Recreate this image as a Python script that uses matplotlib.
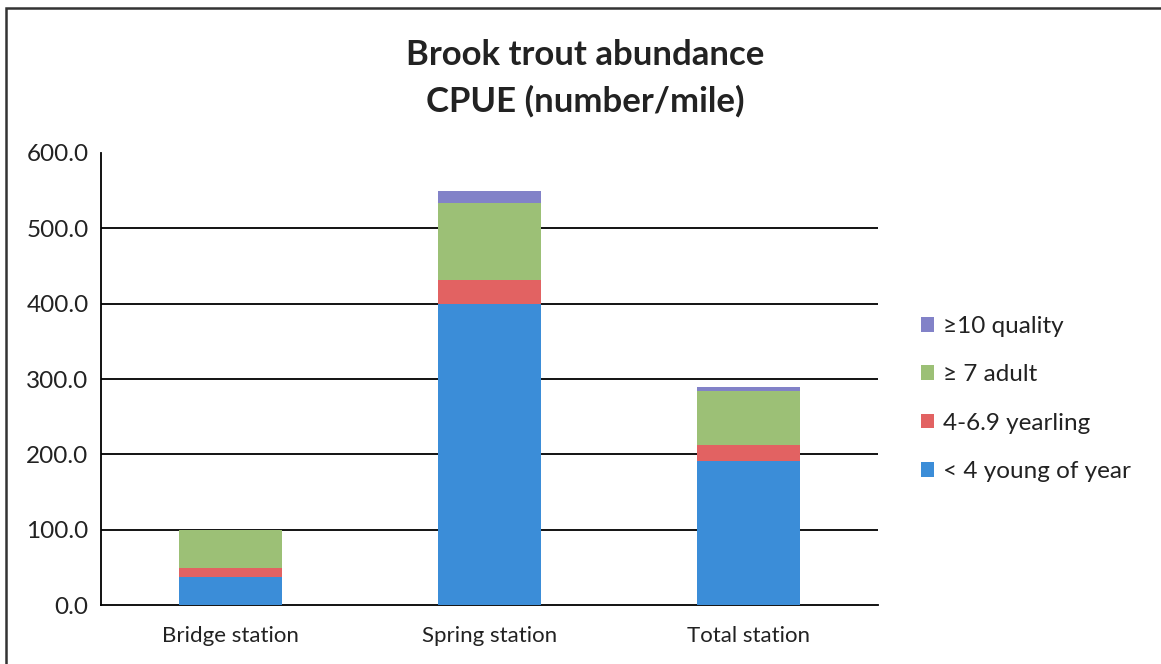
import matplotlib
matplotlib.use("Agg")
import matplotlib.pyplot as plt
from matplotlib.patches import Rectangle
import numpy as np

plt.rcParams['font.family'] = ['Lato', 'DejaVu Sans']

categories = ["Bridge station", "Spring station", "Total station"]
young = [37, 399, 191]
yearling = [12, 33, 21]
adult = [51, 101, 72]
quality = [0, 16, 6]

series_labels = ["< 4 young of year", "4-6.9 yearling", "\u2265 7 adult", "\u226510 quality"]
colors = ["#3b8dd8", "#e26262", "#9cc076", "#8282c8"]
yticks = [0, 100, 200, 300, 400, 500, 600]

W, H = 1161, 664
fig = plt.figure(figsize=(W / 100, H / 100), dpi=100)
ax = fig.add_axes([101 / W, 1 - 605 / H, (878 - 101) / W, (605 - 153) / H])

x = np.arange(len(categories))
bottom = np.zeros(len(categories))
handles = []
for vals, lab, col in zip([young, yearling, adult, quality], series_labels, colors):
    b = ax.bar(x, vals, width=0.4, bottom=bottom, color=col, label=lab, zorder=3)
    handles.append(b)
    bottom += np.array(vals)

ax.set_xlim(-0.5, len(categories) - 0.5)
ax.set_ylim(0, 600)
ax.set_yticks(yticks)
ax.set_yticklabels([f"{v:.1f}" for v in yticks], fontsize=17.5, color="#222222")
ax.set_xticks(x)
ax.set_xticklabels(categories, fontsize=16, color="#222222")
ax.tick_params(axis='y', length=0, pad=9)
ax.tick_params(axis='x', length=0, pad=15)
for v in yticks[1:-1]:
    ax.axhline(v, color="black", linewidth=1.3, zorder=0)
for s in ["top", "right"]:
    ax.spines[s].set_visible(False)
ax.spines["left"].set_linewidth(1.3)
ax.spines["bottom"].set_linewidth(1.3)

fig.text(585 / W, 1 - 55 / H, "Brook trout abundance", ha="center", va="center",
         fontsize=25, fontweight="bold", color="#222222")
fig.text(585 / W, 1 - 101 / H, "CPUE (number/mile)", ha="center", va="center",
         fontsize=25, fontweight="bold", color="#222222")

leg = fig.legend(handles[::-1], series_labels[::-1], loc="center left",
                 bbox_to_anchor=(899 / W, 1 - 399 / H), frameon=False, fontsize=17.5,
                 handlelength=0.55, handleheight=0.55, handletextpad=0.35, labelspacing=1.12)
for t in leg.get_texts():
    t.set_color("#222222")

fig.patches.append(Rectangle((6 / W, -0.01), 1.0, 1 - 8 / H + 0.01, transform=fig.transFigure,
                             fill=False, edgecolor="#333333", linewidth=1.8))

fig.savefig("out.png", dpi=100)
